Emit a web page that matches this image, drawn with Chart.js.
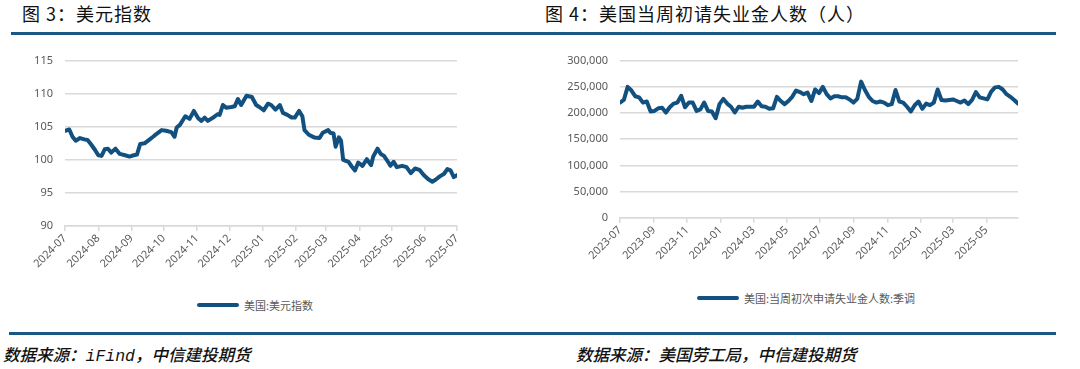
<!DOCTYPE html>
<html>
<head>
<meta charset="utf-8">
<script src="https://cdn.jsdelivr.net/npm/chart.js@4.4.1/dist/chart.umd.min.js"></script>
<style>
  html, body { margin: 0; padding: 0; background: #fff; }
  #page { position: relative; width: 1080px; height: 369px; overflow: hidden; background: #fff; }
  .title { position: absolute; top: 0px; font: 400 18px "Noto Sans CJK SC", sans-serif; letter-spacing: 1px; color: #111; white-space: nowrap; }
  .rule { position: absolute; height: 3px; background: #1b5784; }
  .box { position: absolute; }
  .legend { position: absolute; font: 11px "Noto Sans CJK SC", sans-serif; color: #595959; white-space: nowrap; display: flex; align-items: center; }
  .legend i { display: inline-block; width: 42px; height: 4px; background: #11507f; margin-right: 5px; border-radius: 2px; }
  .source { position: absolute; top: 342px; font: italic 500 16.5px "Noto Sans CJK SC", sans-serif; color: #111; white-space: nowrap; }
  .source span { font-family: "Liberation Mono", monospace; font-weight: 400; }
</style>
</head>
<body>
<div id="page">
  <div class="title" style="left:22px">图 3：美元指数</div>
  <div class="title" style="left:545px">图 4：美国当周初请失业金人数（人）</div>
  <div class="rule" style="left:11px;width:1045px;top:32px"></div>

  <div class="box" style="left:0;top:40px"><canvas id="dxy" width="480" height="240"></canvas></div>
  <div class="box" style="left:540px;top:40px"><canvas id="claims" width="500" height="240"></canvas></div>

  <div class="legend" style="left:197px;top:297px"><i></i>美国:美元指数</div>
  <div class="legend" style="left:697px;top:290px"><i></i>美国:当周初次申请失业金人数:季调</div>

  <div class="rule" style="left:9px;width:1047px;top:332px"></div>
  <div class="source" style="left:3px">数据来源：<span>iFind</span>，中信建投期货</div>
  <div class="source" style="left:576px">数据来源：美国劳工局，中信建投期货</div>
</div>

<script>
// 美元指数
const dxyDates = [
  '2024-07-01','2024-07-05','2024-07-08','2024-07-11','2024-07-15','2024-07-19','2024-07-22','2024-07-25','2024-07-29',
  '2024-08-01','2024-08-04','2024-08-07','2024-08-10','2024-08-13','2024-08-17','2024-08-21','2024-08-26','2024-08-30',
  '2024-09-03','2024-09-06','2024-09-09','2024-09-13','2024-09-17','2024-09-21','2024-09-24','2024-09-29',
  '2024-10-03','2024-10-08','2024-10-11','2024-10-13','2024-10-16','2024-10-21','2024-10-25','2024-10-29',
  '2024-11-02','2024-11-05','2024-11-08','2024-11-11','2024-11-16','2024-11-20','2024-11-22','2024-11-25','2024-11-28',
  '2024-12-03','2024-12-06','2024-12-09','2024-12-12','2024-12-17','2024-12-22','2024-12-26','2024-12-29',
  '2025-01-02','2025-01-06','2025-01-09','2025-01-13','2025-01-17','2025-01-20','2025-01-24','2025-01-28','2025-01-31',
  '2025-02-04','2025-02-07','2025-02-09','2025-02-13','2025-02-18','2025-02-23','2025-02-26',
  '2025-03-03','2025-03-05','2025-03-08','2025-03-10','2025-03-13','2025-03-15','2025-03-17','2025-03-22','2025-03-25','2025-03-28','2025-03-31',
  '2025-04-04','2025-04-08','2025-04-12','2025-04-14','2025-04-18','2025-04-21','2025-04-24','2025-04-27','2025-04-30',
  '2025-05-03','2025-05-06','2025-05-11','2025-05-15','2025-05-19','2025-05-23','2025-05-27','2025-05-31',
  '2025-06-04','2025-06-08','2025-06-11','2025-06-15','2025-06-19','2025-06-22','2025-06-25','2025-06-28','2025-07-01'
];
const dxyValues = [
  104.4, 104.6, 103.5, 102.9, 103.3, 103.1, 103.0, 102.4, 101.5,
  100.7, 100.6, 101.6, 101.7, 101.1, 101.7, 100.9, 100.7, 100.5,
  100.7, 100.8, 102.4, 102.5, 103.0, 103.5, 103.9, 104.5,
  104.4, 104.2, 103.5, 104.9, 105.3, 106.6, 106.2, 107.4,
  106.3, 105.9, 106.4, 105.9, 106.4, 106.9, 106.8, 108.3, 107.9,
  108.0, 108.1, 109.2, 108.3, 109.7, 109.5, 108.3, 108.0,
  107.5, 108.5, 108.3, 107.6, 108.3, 107.1, 106.8, 106.4, 106.4,
  107.4, 106.6, 104.5, 103.8, 103.4, 103.3, 104.1,
  104.5, 104.1, 104.0, 102.0, 103.4, 102.9, 100.0, 99.7, 99.0, 98.4, 99.6,
  99.1, 100.1, 99.2, 100.5, 101.7, 100.9, 100.6, 99.9, 99.1,
  99.7, 98.9, 99.1, 98.9, 98.0, 98.7, 98.5, 97.7,
  97.1, 96.7, 97.0, 97.5, 97.9, 98.6, 98.4, 97.4, 97.7
];
const dxyTickLabels = ['2024-07','2024-08','2024-09','2024-10','2024-11','2024-12',
  '2025-01','2025-02','2025-03','2025-04','2025-05','2025-06','2025-07'];

// 当周初请失业金人数（周度，周六截止）
const claimsStart = '2023-07-01';
const claimsValues = [
  220000, 225000, 250000, 243000, 232000, 230000, 220000, 222000, 203000, 204000,
  209000, 210000, 201000, 211000, 218000, 220000, 233000, 211000, 220000, 220000,
  204000, 207000, 220000, 204000, 203000, 190000, 217000, 227000, 218000, 212000,
  201000, 212000, 210000, 212000, 212000, 212000, 222000, 213000, 212000, 208000,
  209000, 231000, 223000, 217000, 223000, 231000, 243000, 240000, 236000, 239000,
  223000, 245000, 238000, 250000, 236000, 228000, 232000, 232000, 230000, 230000,
  226000, 220000, 227000, 260000, 244000, 231000, 223000, 220000, 222000, 220000,
  215000, 217000, 244000, 222000, 220000, 212000, 203000, 215000, 222000, 208000,
  218000, 215000, 220000, 245000, 225000, 224000, 225000, 226000, 223000, 220000,
  224000, 217000, 225000, 240000, 230000, 228000, 226000, 241000, 249000, 250000,
  245000, 236000, 231000, 225000, 218000
];
const claimsTickLabels = ['2023-07','2023-09','2023-11','2024-01','2024-03','2024-05',
  '2024-07','2024-09','2024-11','2025-01','2025-03','2025-05'];

const DAY = 86400000;
const LINE = '#11507f';
const GRID = '#d9d9d9';
const TEXT = '#595959';
const FONT = '"Noto Sans", "Noto Sans CJK SC", sans-serif';

function makeChart(id, cfg) {
  const tickVals = cfg.tickLabels.map(l => Date.parse(l + '-01'));
  new Chart(document.getElementById(id), {
    type: 'line',
    data: {
      datasets: [{
        data: cfg.points,
        borderColor: LINE,
        borderWidth: 4,
        borderJoinStyle: 'round',
        borderCapStyle: 'round',
        pointRadius: 0,
        tension: 0,
        fill: false,
      }],
    },
    options: {
      responsive: false,
      animation: false,
      devicePixelRatio: 1,
      layout: { padding: { left: 0, top: cfg.top, right: cfg.right, bottom: 0 } },
      plugins: { legend: { display: false }, tooltip: { enabled: false } },
      scales: {
        x: {
          type: 'linear',
          min: cfg.xMin,
          max: cfg.xMax,
          afterBuildTicks: s => { s.ticks = tickVals.map(v => ({ value: v })); },
          afterFit: s => { s.height = cfg.xHeight; },
          ticks: {
            autoSkip: false, minRotation: 45, maxRotation: 45, padding: 1,
            color: TEXT, font: { size: 11, family: FONT },
            callback: (v, i) => cfg.tickLabels[i],
          },
          grid: { drawOnChartArea: false, drawTicks: true, tickLength: 5, color: GRID, lineWidth: 1.5 },
          border: { display: true, color: GRID, width: 1.5 },
        },
        y: {
          min: cfg.yMin,
          max: cfg.yMax,
          afterFit: s => { s.width = cfg.yWidth; },
          ticks: {
            stepSize: cfg.yStep, padding: 12,
            color: TEXT, font: { size: 11, family: FONT },
            callback: v => v.toLocaleString('en-US'),
          },
          grid: { color: GRID, lineWidth: 1.5, drawTicks: false },
          border: { display: false },
        },
      },
    },
  });
}

makeChart('dxy', {
  points: dxyDates.map((d, i) => ({ x: Date.parse(d), y: dxyValues[i] })),
  tickLabels: dxyTickLabels,
  xMin: Date.parse('2024-07-01'), xMax: Date.parse('2025-07-01'),
  yMin: 90, yMax: 115, yStep: 5,
  yWidth: 65, xHeight: 54, top: 20.7, right: 23,
});

const claimsT0 = Date.parse(claimsStart);
const claimsPoints = claimsValues.map((v, i) => ({ x: claimsT0 + i * 7 * DAY, y: v }));
makeChart('claims', {
  points: claimsPoints,
  tickLabels: claimsTickLabels,
  xMin: claimsT0, xMax: claimsPoints[claimsPoints.length - 1].x,
  yMin: 0, yMax: 300000, yStep: 50000,
  yWidth: 80, xHeight: 62.3, top: 20.7, right: 22,
});
</script>
</body>
</html>
